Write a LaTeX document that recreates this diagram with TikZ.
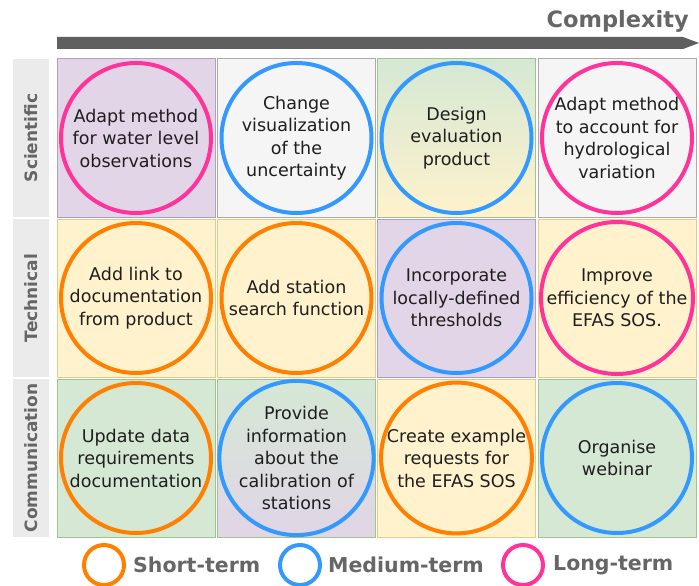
\documentclass[tikz,border=0pt]{standalone}
\usepackage{fontspec}
\setmainfont{DejaVu Sans}
\definecolor{purf}{HTML}{E1D5E7}\definecolor{purd}{HTML}{B39FC4}
\definecolor{grnf}{HTML}{D5E8D4}\definecolor{grnd}{HTML}{9DC58C}
\definecolor{yelf}{HTML}{FFF2CC}\definecolor{yeld}{HTML}{E3CC8A}
\definecolor{gryf}{HTML}{F5F5F5}\definecolor{gryd}{HTML}{ABABAB}
\definecolor{pinkc}{HTML}{FF3399}\definecolor{bluec}{HTML}{3399FF}\definecolor{orac}{HTML}{FF8000}
\definecolor{labf}{HTML}{EBEBEB}\definecolor{labt}{HTML}{666666}
\definecolor{txt}{HTML}{1E1E1E}\definecolor{arr}{HTML}{5F5F5F}
\tikzset{
  cell/.style={draw, line width=1pt, minimum width=158pt, minimum height=158pt, inner sep=0pt},
  pur/.style={cell, fill=purf, draw=purd},
  grn/.style={cell, fill=grnf, draw=grnd},
  yel/.style={cell, fill=yelf, draw=yeld},
  gry/.style={cell, fill=gryf, draw=gryd},
  idea/.style={circle, draw, line width=4pt, minimum size=150pt, inner sep=0pt, align=center,
    font=\fontsize{17.5}{22.5}\selectfont, text=txt},
  shortc/.style={idea, draw=orac},
  medc/.style={idea, draw=bluec},
  longc/.style={idea, draw=pinkc},
  rowlab/.style={fill=labf, rotate=90, minimum width=158pt, minimum height=36pt, inner sep=0pt,
    font=\bfseries\fontsize{17}{20}\selectfont, text=labt},
  legc/.style={circle, draw, line width=4pt, minimum size=40pt, inner sep=0pt},
  legt/.style={anchor=west, inner sep=0pt, font=\bfseries\fontsize{20.5}{24}\selectfont, text=labt},
}
\begin{document}
\begin{tikzpicture}[x=1pt,y=-1pt]
\useasboundingbox (0,0) rectangle (699,586);
% complexity arrow
\node[anchor=base east, inner sep=0pt, font=\bfseries\fontsize{22.5}{26}\selectfont, text=labt] (cx) at (689,28) {Complexity};
\coordinate (a0) at (57,37);
\coordinate (a1) at (683,37);
\coordinate (a2) at (699,43);
\coordinate (a3) at (683,49);
\coordinate (a4) at (57,49);
\fill[arr] (a0) -- (a1) -- (a2) -- (a3) -- (a4) -- cycle;
% row labels
\node[rowlab] (ls) at (31,138) {Scientific};
\node[rowlab] (lt) at (31,298) {Technical};
\node[rowlab] (lc) at (31,458) {Communication};
% cells row 1
\node[pur] (c11) at (136,138) {};
\node[gry] (c12) at (296.5,138) {};
\node[grn, top color=grnf, bottom color=yelf] (c13) at (456.5,138) {};
\node[gry] (c14) at (617,138) {};
% row 2
\node[yel] (c21) at (136,298) {};
\node[yel] (c22) at (296.5,298) {};
\node[pur] (c23) at (456.5,298) {};
\node[yel] (c24) at (617,298) {};
% row 3
\node[grn] (c31) at (136,458) {};
\node[grn, top color=grnf, bottom color=purf] (c32) at (296.5,458) {};
\node[yel] (c33) at (456.5,458) {};
\node[grn] (c34) at (617,458) {};
% ideas
\node[longc] (i11) at (c11) {Adapt method\\for water level\\observations};
\node[medc] (i12) at (c12) {Change\\visualization\\of the\\uncertainty};
\node[medc] (i13) at (c13) {Design\\evaluation\\product};
\node[longc] (i14) at (c14) {Adapt method\\to account for\\hydrological\\variation};
\node[shortc] (i21) at (c21) {Add link to\\documentation\\from product};
\node[shortc] (i22) at (c22) {Add station\\search function};
\node[medc] (i23) at (c23) {Incorporate\\locally-defined\\thresholds};
\node[longc] (i24) at (c24) {Improve\\efficiency of the\\EFAS SOS.};
\node[shortc] (i31) at (c31) {Update data\\requirements\\documentation};
\node[medc] (i32) at (c32) {Provide\\information\\about the\\calibration of\\stations};
\node[shortc] (i33) at (c33) {Create example\\requests for\\the EFAS SOS};
\node[medc] (i34) at (c34) {Organise\\webinar};
% legend
\node[legc, draw=orac] (g1) at (104,565) {};
\node[legt] (t1) at (133,565) {Short-term};
\node[legc, draw=bluec] (g2) at (300,565) {};
\node[legt] (t2) at (328,565) {Medium-term};
\node[legc, draw=pinkc] (g3) at (523,565) {};
\node[legt] (t3) at (553,565) {Long-term};
\end{tikzpicture}
\end{document}
